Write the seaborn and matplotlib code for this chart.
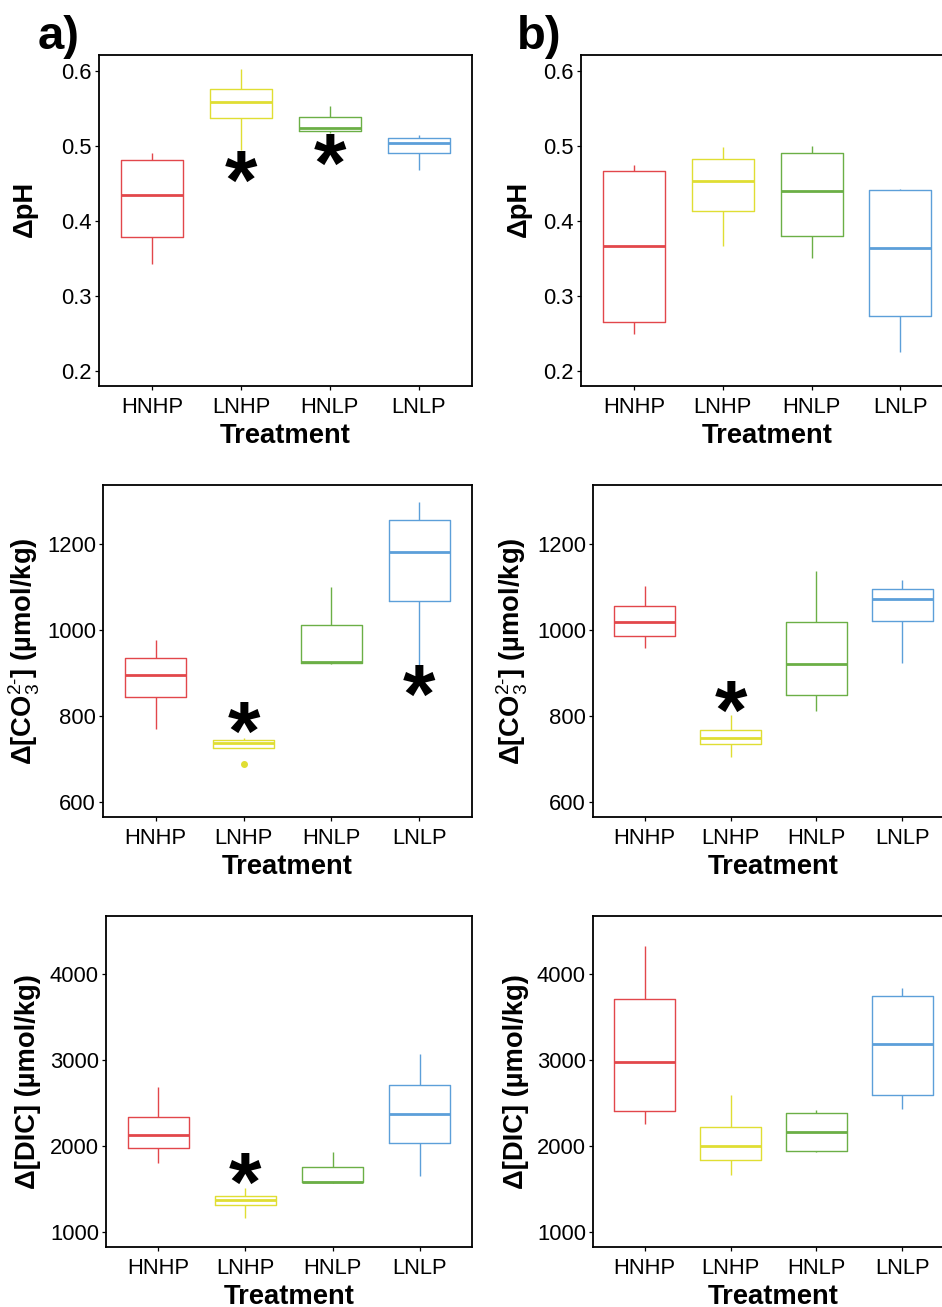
import matplotlib
matplotlib.use("Agg")
import matplotlib.pyplot as plt
import pandas as pd
import seaborn as sns

# Treatments and their colours
treatments = ["HNHP", "LNHP", "HNLP", "LNLP"]
colors = ["#E2474B", "#E0DE33", "#6BAF46", "#5C9FD9"]

# Per-treatment values (low, Q1, median, Q3, high) for each panel
ph_a = {
    "HNHP": [0.342, 0.379, 0.4345, 0.481, 0.491],
    "LNHP": [0.4946, 0.537, 0.559, 0.5755, 0.6027],
    "HNLP": [0.5177, 0.520, 0.524, 0.539, 0.553],
    "LNLP": [0.468, 0.490, 0.5036, 0.510, 0.5146],
}
ph_b = {
    "HNHP": [0.2494, 0.2646, 0.3661, 0.4664, 0.475],
    "LNHP": [0.366, 0.4129, 0.4526, 0.482, 0.4984],
    "HNLP": [0.3506, 0.3804, 0.4396, 0.4909, 0.4998],
    "LNLP": [0.2245, 0.2726, 0.3639, 0.441, 0.4428],
}
co3_a = {
    "HNHP": [770, 844.5, 895.7, 935.3, 976.4],
    "LNHP": [688.5, 726.5, 738.2, 744.4, 749.8],
    "HNLP": [920.5, 922, 924.4, 1011.4, 1099],
    "LNLP": [918.2, 1067.3, 1180.6, 1256.7, 1298.6],
}
co3_b = {
    "HNHP": [959, 985.5, 1017.4, 1054.7, 1102.9],
    "LNHP": [704, 733.7, 749.2, 766.3, 801.3],
    "HNLP": [811.4, 849.5, 920.2, 1017.4, 1137.8],
    "LNLP": [924.1, 1021.2, 1071.8, 1095, 1116],
}
dic_a = {
    "HNHP": [1796, 1971, 2127, 2340, 2690],
    "LNHP": [1163, 1314, 1373, 1419, 1505],
    "HNLP": [1563, 1575, 1583, 1757, 1925],
    "LNLP": [1649, 2030, 2375, 2706, 3067],
}
dic_b = {
    "HNHP": [2259, 2410, 2982, 3708.5, 4326],
    "LNHP": [1656, 1839, 1998, 2224, 2589],
    "HNLP": [1928, 1936, 2162, 2387, 2414],
    "LNLP": [2426, 2593, 3184, 3747, 3837],
}

# Significance marks: (treatment, y position)
stars_ph_a = [("LNHP", 0.467), ("HNLP", 0.490)]
stars_co3_a = [("LNHP", 786), ("LNLP", 872)]
stars_co3_b = [("LNHP", 835)]
stars_dic_a = [("LNHP", 1687)]

ph_ticks = [0.2, 0.3, 0.4, 0.5, 0.6]
co3_ticks = [600, 800, 1000, 1200]
dic_ticks = [1000, 2000, 3000, 4000]

ph_label = "ΔpH"
co3_label = r"Δ[CO$_{3}^{2\text{-}}$] (µmol/kg)"
dic_label = "Δ[DIC] (µmol/kg)"

sns.set_style("white")
plt.rcParams["font.family"] = ["Liberation Sans", "DejaVu Sans"]
plt.rcParams["mathtext.fontset"] = "custom"
plt.rcParams["mathtext.rm"] = "Liberation Sans"
plt.rcParams["mathtext.it"] = "Liberation Sans"
plt.rcParams["mathtext.bf"] = "Liberation Sans:bold"
plt.rcParams["text.color"] = "black"
plt.rcParams["axes.labelcolor"] = "black"
plt.rcParams["xtick.color"] = "black"
plt.rcParams["ytick.color"] = "black"

W, H = 942, 1307
fig = plt.figure(figsize=(W / 100, H / 100), dpi=100)


def make_axes(l, t, r, b):
    return fig.add_axes([l / W, 1 - b / H, (r - l) / W, (b - t) / H])


def long_form(values):
    rows = []
    for tr in treatments:
        for v in values[tr]:
            rows.append({"Treatment": tr, "value": v})
    return pd.DataFrame(rows)


def panel(ax, values, ylim, ticks, ylabel, label_x_px, label_y, stars, ax_left_px, ax_w_px):
    df = long_form(values)
    sns.boxplot(
        data=df, x="Treatment", y="value", hue="Treatment",
        order=treatments, hue_order=treatments, palette=colors,
        fill=False, width=0.7, linewidth=1.0, whis=1.5, legend=False,
        showcaps=False,
        medianprops=dict(linewidth=2.0),
        flierprops=dict(marker="o", markersize=4),
        ax=ax,
    )
    for line in ax.lines:
        m = line.get_marker()
        if m not in (None, "None", "", " "):
            c = line.get_markeredgecolor()
            line.set_markerfacecolor(c)
    ax.set_xlim(-0.6, 3.6)
    ax.set_ylim(*ylim)
    ax.set_yticks(ticks)
    ax.set_yticklabels([f"{t:g}" for t in ticks])
    for s in ax.spines.values():
        s.set_visible(True)
        s.set_color("black")
        s.set_linewidth(1.3)
    ax.tick_params(axis="both", which="major", direction="out", length=2.6,
                   width=0.9, color="black", labelsize=15.8, labelcolor="black",
                   left=True, bottom=True)
    ax.tick_params(axis="y", pad=2.5)
    ax.tick_params(axis="x", pad=5)
    ax.set_xlabel("Treatment", fontsize=19.7, fontweight="bold", color="black")
    ax.xaxis.set_label_coords(0.5, -37 / 331)
    ax.xaxis.label.set_va("top")
    ax.set_ylabel(ylabel, fontsize=19.7, fontweight="bold", color="black")
    ax.yaxis.set_label_coords((label_x_px - ax_left_px) / ax_w_px, label_y)
    for tr, y in stars:
        fs = 60
        ax.annotate("*", xy=(treatments.index(tr), y), xytext=(0, -0.46 * fs),
                    textcoords="offset points", ha="center", va="baseline",
                    fontsize=fs, fontweight="bold", color="black")


ax_a1 = make_axes(99, 55, 472, 386)
ax_b1 = make_axes(581, 55, 953.5, 386)
ax_a2 = make_axes(103, 485, 472, 817)
ax_b2 = make_axes(593, 485, 954, 817)
ax_a3 = make_axes(106, 916, 472, 1247)
ax_b3 = make_axes(593, 916, 954, 1247)

ph_lim = (0.1795, 0.6214)
co3_lim = (565, 1337)
dic_lim = (820, 4678)

panel(ax_a1, ph_a, ph_lim, ph_ticks, ph_label, 38, 0.535, stars_ph_a, 99, 373)
panel(ax_b1, ph_b, ph_lim, ph_ticks, ph_label, 532, 0.535, [], 581, 372.5)
panel(ax_a2, co3_a, co3_lim, co3_ticks, co3_label, 42, 0.5, stars_co3_a, 103, 369)
panel(ax_b2, co3_b, co3_lim, co3_ticks, co3_label, 530, 0.5, stars_co3_b, 593, 361)
panel(ax_a3, dic_a, dic_lim, dic_ticks, dic_label, 41, 0.5, stars_dic_a, 106, 366)
panel(ax_b3, dic_b, dic_lim, dic_ticks, dic_label, 529, 0.5, [], 593, 361)

fig.text(38 / W, 1 - 49 / H, "a)", fontsize=34, fontweight="bold", ha="left", va="baseline")
fig.text(517 / W, 1 - 49 / H, "b)", fontsize=34, fontweight="bold", ha="left", va="baseline")

fig.savefig("out.png", dpi=100)
